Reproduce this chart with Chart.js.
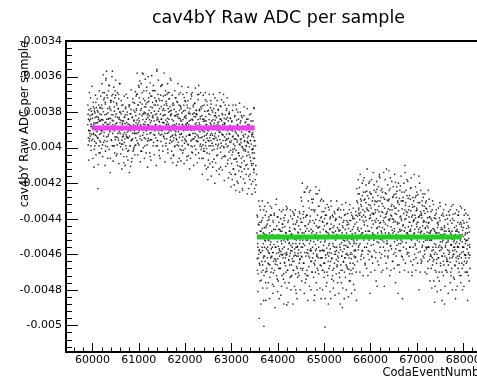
<!DOCTYPE html>
<html>
<head>
<meta charset="utf-8">
<script src="https://cdn.jsdelivr.net/npm/chart.js@4"></script>
<style>
  html, body { margin: 0; padding: 0; background: #fff; overflow: hidden; }
  #wrap { width: 520px; height: 382px; position: relative; }
</style>
</head>
<body>
<div id="wrap"><canvas id="chart"></canvas></div>
<script>
// event number of the first sample in each run; one sample every 6.25 events (8 per row of 50),
// the second pass of samples sits half a step later
const lowRunStart = 59900;
const highRunStart = 63550;
const sampleStep = 6.25;

// tick labels
const xTickVals = [60000, 61000, 62000, 63000, 64000, 65000, 66000, 67000, 68000];
const yTickVals = [-0.005, -0.0048, -0.0046, -0.0044, -0.0042, -0.004, -0.0038, -0.0036, -0.0034];

// Raw ADC per sample, as magnitudes in units of 1e-6 (values are negative)
const lowRunY = [
  [3870,3812,3945,3901,3788,3962,3850,3920],[3905,3840,3780,3990,3868,3925,3815,3880],
  [3835,3952,3890,3770,3918,3860,4010,3795],[3880,3805,3930,3862,3745,3975,3898,3826],
  [3910,3792,3858,3947,3830,3885,3760,4030],[3850,3925,3810,3892,3968,3775,3903,3842],
  [3760,3905,3842,3985,3690,3870,3798,3935],[3880,3720,3960,3815,3745,4020,3856,3610],
  [3812,3940,3705,3868,3995,3780,3890,3840],[3925,3650,3835,3770,3910,3860,4060,3735],
  [3790,3880,3960,3708,3845,3570,3920,3815],[3850,3742,3905,3990,3795,3875,3680,3955],
  [3705,3865,3812,3940,3760,4035,3888,3830],[3895,3780,3958,3725,3840,3910,3800,3640],
  [3920,3845,3995,3810,3900,3760,3958,3870],[3862,3980,3795,3935,4050,3885,3828,3915],
  [3950,3815,3890,3772,3925,4005,3858,3940],[3800,3912,4020,3868,3945,3840,3760,3895],
  [3935,3872,3810,3990,3905,3785,3960,4080],[3880,3955,3830,3918,3745,3892,4010,3850],
  [3845,3920,3990,3800,3878,3945,3820,3710],[3790,3920,3845,3700,3880,3975,3760,3860],
  [3835,3660,3905,3812,3950,3745,3870,4020],[3880,3780,3958,3820,3690,3900,3842,3585],
  [3725,3868,3810,3945,3770,3990,3855,3805],[3900,3755,3840,3680,3925,3815,3962,3870],
  [3810,3948,3720,3875,3790,3842,4030,3635],[3860,3770,3915,3805,3955,3710,3880,3828],
  [3745,3890,3832,3970,3678,3850,3795,3930],[3905,3815,3760,3870,3990,3740,3845,3560],
  [3830,3960,3700,3888,3795,3920,3852,4045],[3780,3875,3930,3812,3655,3902,3768,3840],
  [3895,3735,3858,3990,3820,3780,3940,3860],[3815,3950,3790,3705,3885,3845,3975,3752],
  [3870,3762,3920,3835,4010,3690,3868,3800],[3840,3905,3725,3880,3795,3958,3815,3620],
  [3905,3810,3968,3842,3760,3930,3875,4040],[3850,3945,3785,3902,3820,3990,3720,3878],
  [3932,3798,3865,3955,3740,3890,3825,4080],[3812,3910,3990,3760,3868,3942,3835,3690],
  [3885,3770,3925,3852,4015,3805,3960,3870],[3940,3842,3795,3905,3880,3718,3975,3825],
  [3790,3958,3868,3820,3935,3875,4050,3760],[3862,3900,3735,3985,3808,3930,3850,3895],
  [3925,3780,3880,3845,3962,3700,3902,4025],[3840,3995,3812,3920,3760,3888,3950,3805],
  [3895,3752,3940,3868,3825,4010,3790,3860],[3810,3928,3875,3702,3965,3842,3898,3650],
  [3945,3860,3792,3910,3838,3980,3770,3885],[3880,3995,3820,3940,3765,3905,4060,3852],
  [3958,3840,3910,4020,3795,3885,3730,3970],[3825,3930,4005,3870,3948,3760,3900,4110],
  [3905,3790,3962,3842,4035,3880,3815,3930],[3990,3868,3755,3920,3850,3975,4080,3800],
  [3842,3950,3895,3780,4010,3862,3935,3720],[3920,3805,3982,3875,3830,4045,3900,3958],
  [3860,3990,3785,3935,3905,3820,4120,3878],[3955,3840,3912,4025,3768,3895,3850,3990],
  [3808,3925,3870,3960,3900,3745,4000,3835],[3940,3862,4050,3815,3890,3980,3790,3925],
  [3885,3995,3830,3905,4070,3850,3948,3762],[3920,3810,3968,3875,3835,4015,3900,4150],
  [3960,3855,4040,3905,3790,4010,3935,4120],[3880,4065,3952,3825,3990,3910,4150,3760],
  [4015,3920,3845,4080,3968,3875,3800,4200],[3935,4030,3890,3980,3750,4105,3862,3955],
  [3850,3972,4060,3912,4135,3830,3995,4240],[4005,3895,3940,3820,4075,3960,3880,4010],
  [3925,4100,3855,3990,3900,4045,3780,3965],[3970,3840,4025,3935,4160,3872,3995,3910],
  [3890,4055,3960,3810,3980,4090,3925,4262],[4030,3915,3850,4008,3940,3775,4125,3962]
];

// second pass over the same run, catching the wider spread
const lowRunY2 = [
  [3760,3985,3840,4070,3905,3690,3950,3820],[3935,3720,3880,4015,3795,3960,3655,3890],
  [3810,4060,3745,3925,3870,4110,3780,3965],[3990,3830,3705,3900,4040,3775,3935,3860],
  [3725,3945,3880,3800,4095,3840,3990,3680],[3960,3775,4030,3850,3710,3920,3815,4005],
  [3640,3905,3780,4050,3845,3590,3970,3730],[3915,3690,3860,4100,3755,3990,3620,3880],
  [3570,3840,3965,3720,4060,3805,3935,3680],[3870,4010,3650,3900,3780,4140,3835,3745],
  [3735,3955,3815,3600,3990,3870,3700,4075],[3990,3660,3885,3770,4030,3720,3940,3825],
  [3620,3895,4045,3750,3860,3985,3690,3920],[3945,3780,3700,4090,3830,3640,3975,3860],
  [3800,4035,3890,3735,3980,4120,3850,3940],[4010,3760,3925,3850,4085,3710,3970,3830],
  [3865,4100,3780,3990,3700,3935,4050,3815],[3945,3720,4070,3840,3905,4015,3770,4140],
  [3760,3990,3880,4105,3810,3675,3960,3895],[4060,3830,3950,3725,4020,3870,3790,4000],
  [3905,3750,4040,3920,3685,3985,3860,3780],[3700,3960,3580,3870,4040,3760,3915,3650],
  [3985,3720,3850,3625,3935,4080,3790,3880],[3640,3890,4020,3755,3580,3930,3810,4000],
  [3915,3680,3800,4060,3735,3870,3615,3950],[3770,4030,3905,3660,3985,3745,4110,3830],
  [3600,3875,3740,3960,3820,3695,3920,4050],[3955,3710,4070,3850,3595,3900,3775,3680],
  [3820,3990,3650,3925,3760,4040,3880,3720],[3680,3870,3945,3735,4100,3810,3570,3960],
  [3990,3760,3840,3620,3905,3725,4015,3855],[3735,4060,3890,3705,3965,3840,3650,3925],
  [3905,3645,3790,4020,3710,3935,3860,3580],[3760,3920,4080,3815,3680,3990,3740,3870],
  [3950,3700,3855,3640,4030,3780,3915,3725],[3690,3880,3975,3770,3610,3940,3820,4060],
  [3790,4020,3935,3705,3880,4085,3750,3960],[4045,3760,3870,3995,3680,3925,3820,3910],
  [3720,3950,4100,3815,3985,3745,3890,3640],[3970,3835,3700,4060,3790,3925,4010,3765],
  [3845,4075,3780,3920,3655,3990,3870,4030],[3700,3890,4015,3760,4090,3830,3950,3735],
  [4005,3740,3900,3835,3965,3690,4070,3860],[3775,3980,3660,4045,3870,3800,3930,4120],
  [3930,3810,4060,3725,3990,3880,3710,3955],[3690,4030,3845,3950,3770,4100,3825,3900],
  [3990,3750,3920,3665,4040,3810,3960,3790],[3815,3965,4085,3880,3730,3935,4030,3700],
  [4060,3785,3870,3990,3825,3690,3945,4010],[3780,4060,3900,4150,3840,3985,3705,4020],
  [4005,3760,3935,3850,4100,3690,3990,3870],[3850,4120,3740,4030,3920,3795,4180,3960],
  [4070,3810,3990,3700,3945,4090,3860,3775],[3735,3960,4160,3880,3790,4015,3930,4110],
  [3990,3700,3875,4065,3950,3820,4200,3845],[3820,4085,3945,3760,4130,3890,3735,4005],
  [4040,3870,3790,3980,3855,4150,3915,3690],[3765,4000,4110,3840,3975,3730,4060,3925],
  [4125,3815,3930,4050,3700,3995,3860,4185],[3870,4045,3760,3960,4105,3840,3950,3780],
  [3955,3720,4090,3890,3990,4170,3810,4025],[3800,4140,3925,4060,3835,3970,4220,3885],
  [4090,3850,4180,3940,4025,3760,4120,3980],[3890,4210,4005,3820,4150,3950,4065,4240],
  [4060,3785,3955,4190,3870,4100,3930,4030],[3840,4130,4045,3900,4250,3985,3800,4165],
  [4110,3950,3820,4085,3995,4230,3880,4050],[3930,4175,4015,3770,4120,3965,4200,3860],
  [4020,3880,4150,3990,3840,4095,4260,3945],[3870,4120,3975,4230,3910,4040,3815,4180],
  [4150,3960,4075,3850,4205,3935,4100,4010],[3925,4190,3880,4060,3990,4140,3780,4230]
];

const highRunY = [
  [4480,4625,4390,4560,4710,4505,4600,4435],[4575,4420,4660,4510,4350,4590,4470,4745],
  [4505,4640,4455,4580,4395,4690,4540,4860],[4610,4485,4560,4330,4640,4525,4760,4450],
  [4440,4570,4695,4500,4620,4410,4580,4520],[4655,4520,4405,4595,4480,4730,4545,4380],
  [4530,4380,4615,4470,4680,4560,4495,4820],[4590,4705,4460,4545,4370,4625,4510,4655],
  [4460,4560,4640,4290,4595,4505,4740,4530],[4625,4490,4555,4680,4420,4570,4610,4460],
  [4510,4650,4400,4585,4525,4780,4470,4605],[4570,4430,4620,4500,4710,4395,4560,4645],
  [4445,4595,4530,4665,4480,4605,4350,4885],[4600,4515,4690,4420,4570,4500,4635,4540],
  [4535,4660,4470,4595,4385,4550,4725,4490],[4485,4580,4625,4360,4540,4690,4505,4610],
  [4640,4455,4570,4515,4605,4430,4800,4560],[4520,4610,4410,4680,4555,4475,4595,4705],
  [4575,4495,4650,4540,4370,4625,4460,4590],
  [4420,4560,4300,4615,4480,4690,4520,4375],[4540,4395,4650,4250,4505,4590,4440,4760],
  [4470,4610,4520,4380,4720,4455,4220,4575],[4595,4430,4500,4670,4340,4540,4620,4410],
  [4385,4525,4640,4460,4580,4290,4700,4510],[4560,4470,4350,4595,4500,4650,4425,4830],
  [4490,4635,4545,4405,4260,4570,4480,4610],[4610,4380,4520,4690,4450,4560,4330,4505],
  [4445,4580,4475,4620,4530,4395,4665,4290],
  [4500,4620,4415,4575,4690,4460,4550,4360],[4580,4440,4650,4520,4380,4605,4495,4780],
  [4475,4565,4700,4425,4590,4510,4640,4335],[4610,4490,4540,4665,4400,4570,4455,4850],
  [4430,4595,4510,4625,4475,4720,4540,4390],[4555,4680,4440,4505,4600,4370,4585,4470],
  [4520,4405,4630,4560,4490,4660,4350,4610],[4640,4510,4460,4590,4705,4430,4545,4495],
  [4465,4575,4690,4395,4535,4610,4480,4900],[4585,4450,4520,4645,4410,4570,4700,4525],
  [4495,4620,4375,4550,4660,4480,4595,4435],[4560,4420,4605,4510,4455,4685,4530,4750],
  [4410,4540,4650,4470,4590,4365,4625,4515],[4600,4485,4555,4400,4680,4520,4445,4580],
  [4530,4660,4430,4575,4495,4615,4380,4540],
  [4420,4300,4510,4385,4460,4260,4575,4350],[4340,4470,4225,4405,4540,4365,4290,4630],
  [4455,4330,4390,4580,4270,4480,4410,4185],[4380,4520,4295,4435,4360,4650,4250,4470],
  [4310,4410,4560,4245,4495,4350,4440,4720],[4470,4355,4285,4520,4400,4190,4585,4325],
  [4395,4505,4340,4260,4450,4615,4370,4480],[4280,4430,4545,4375,4210,4490,4320,4410],
  [4500,4365,4420,4590,4305,4455,4235,4780],[4350,4480,4270,4410,4535,4330,4445,4150],
  [4425,4300,4515,4385,4240,4470,4600,4360],[4315,4450,4365,4495,4410,4280,4530,4395],
  [4460,4340,4580,4255,4430,4375,4500,4120],[4370,4525,4295,4440,4610,4345,4405,4480],
  [4290,4410,4490,4350,4230,4555,4380,4445],[4510,4385,4320,4465,4400,4640,4275,4420],
  [4405,4265,4455,4530,4340,4415,4195,4570],[4340,4490,4375,4245,4520,4430,4300,4820],
  [4475,4355,4425,4580,4285,4460,4390,4215],[4385,4520,4300,4410,4465,4345,4615,4440],
  [4300,4435,4560,4370,4495,4250,4405,4100],[4450,4325,4400,4535,4360,4480,4270,4590],
  [4365,4505,4285,4445,4590,4390,4330,4470],[4420,4290,4470,4355,4225,4515,4440,4700],
  [4495,4380,4335,4560,4415,4300,4485,4405],[4330,4460,4540,4280,4395,4620,4355,4430],
  [4445,4350,4420,4505,4265,4475,4390,4160],[4390,4530,4310,4450,4585,4360,4475,4650],
  [4470,4395,4560,4325,4440,4505,4280,4410],[4355,4485,4415,4600,4370,4455,4520,4340],
  [4500,4420,4345,4475,4560,4395,4640,4450],[4425,4560,4480,4390,4520,4330,4610,4470],
  [4520,4400,4610,4465,4580,4350,4660,4495],[4455,4575,4510,4630,4395,4540,4470,4780],
  [4590,4480,4545,4370,4650,4505,4600,4425],[4500,4620,4435,4560,4480,4700,4395,4550],
  [4410,4530,4665,4490,4575,4450,4610,4860],[4565,4460,4520,4640,4385,4595,4505,4470],
  [4485,4610,4405,4550,4690,4470,4535,4620],[4630,4505,4575,4430,4520,4660,4455,4580],
  [4470,4590,4500,4645,4410,4545,4720,4490],[4545,4425,4620,4515,4580,4375,4600,4530],
  [4600,4520,4450,4575,4665,4490,4540,4800],[4440,4585,4530,4470,4610,4555,4380,4625],
  [4560,4475,4650,4540,4490,4600,4520,4420],[4505,4620,4445,4590,4530,4680,4465,4560],
  [4585,4500,4560,4425,4640,4515,4605,4490],[4480,4605,4525,4650,4455,4570,4700,4520],
  [4550,4440,4590,4510,4620,4475,4545,4605]
];

const highRunY2 = [
  [4380,4690,4540,4810,4430,4620,4300,4580],[4650,4330,4750,4470,4590,4880,4420,4700],
  [4410,4560,4300,4660,4790,4480,4620,4350],[4720,4450,4610,4520,4380,4700,4860,4490],
  [4360,4680,4790,4430,4560,4310,4650,4760],[4590,4390,4510,4850,4660,4440,4330,4620],
  [4700,4570,4340,4610,4490,4770,4590,4410],[4420,4640,4780,4380,4690,4510,4900,4560],
  [4630,4320,4500,4720,4440,4660,4390,4810],[4390,4750,4590,4460,4850,4350,4580,4680],
  [4680,4470,4830,4600,4360,4540,4720,4430],[4450,4600,4350,4740,4520,4880,4410,4650],
  [4760,4380,4620,4480,4700,4330,4590,4790],[4340,4690,4520,4870,4410,4630,4760,4470],
  [4610,4450,4730,4350,4580,4800,4490,4660],[4720,4560,4400,4640,4880,4430,4690,4370],
  [4380,4780,4590,4460,4350,4710,4540,4820],[4670,4420,4850,4560,4730,4390,4610,4480],
  [4440,4720,4360,4630,4520,4800,4400,4680],
  [4280,4610,4750,4420,4200,4560,4680,4330],[4650,4360,4480,4820,4550,4250,4710,4440],
  [4390,4740,4230,4590,4690,4380,4520,4860],[4720,4300,4610,4470,4250,4780,4420,4580],
  [4240,4570,4800,4350,4640,4480,4700,4310],[4620,4410,4290,4730,4530,4860,4360,4660],
  [4350,4700,4580,4220,4760,4440,4600,4800],[4680,4260,4450,4620,4330,4710,4510,4240],
  [4410,4790,4660,4300,4580,4850,4390,4620],
  [4360,4690,4800,4420,4580,4300,4650,4730],[4700,4400,4530,4850,4340,4620,4470,4380],
  [4430,4760,4320,4600,4720,4480,4880,4550],[4680,4350,4590,4460,4810,4390,4640,4300],
  [4330,4620,4740,4510,4380,4690,4450,4790],[4750,4480,4360,4650,4560,4830,4410,4600],
  [4400,4710,4580,4300,4670,4450,4760,4350],[4620,4340,4820,4470,4390,4730,4560,4880],
  [4350,4660,4500,4760,4610,4320,4690,4440],[4790,4420,4640,4350,4550,4850,4380,4620],
  [4460,4730,4310,4600,4800,4410,4670,4520],[4680,4370,4560,4840,4430,4620,4350,4710],
  [4320,4600,4750,4410,4690,4500,4820,4380],[4710,4460,4390,4650,4340,4770,4540,4610],
  [4400,4800,4620,4480,4580,4360,4700,4860],
  [4230,4520,4640,4310,4450,4180,4560,4370],[4550,4260,4380,4700,4150,4490,4320,4610],
  [4300,4600,4480,4200,4580,4350,4720,4250],[4620,4170,4420,4560,4290,4660,4390,4510],
  [4210,4490,4680,4340,4120,4540,4270,4600],[4580,4320,4200,4630,4470,4250,4820,4380],
  [4260,4700,4550,4180,4610,4410,4300,4650],[4490,4140,4370,4520,4240,4580,4690,4300],
  [4350,4620,4250,4750,4400,4190,4530,4450],[4640,4300,4510,4220,4660,4360,4160,4590],
  [4170,4560,4420,4620,4280,4700,4480,4230],[4520,4250,4690,4330,4560,4140,4420,4780],
  [4290,4610,4180,4480,4390,4650,4260,4540],[4680,4360,4540,4210,4620,4300,4580,4130],
  [4240,4500,4720,4400,4170,4550,4690,4330],[4570,4190,4350,4640,4280,4480,4220,4600],
  [4330,4680,4470,4150,4590,4370,4760,4260],[4610,4280,4220,4550,4420,4660,4310,4500],
  [4200,4540,4660,4320,4700,4240,4470,4580],[4540,4160,4400,4610,4250,4530,4850,4300],
  [4280,4630,4510,4200,4470,4690,4350,4140],[4650,4310,4240,4570,4380,4180,4600,4480],
  [4190,4490,4700,4350,4610,4420,4270,4560],[4560,4230,4460,4640,4170,4520,4390,4720],
  [4320,4660,4280,4500,4410,4630,4150,4480],[4600,4380,4550,4220,4690,4270,4570,4340],
  [4250,4520,4650,4420,4310,4590,4460,4800],[4510,4200,4380,4700,4480,4240,4630,4370],
  [4380,4640,4300,4550,4260,4610,4420,4530],[4620,4330,4580,4260,4700,4450,4310,4560],
  [4300,4570,4710,4440,4520,4360,4680,4240],[4560,4420,4290,4630,4390,4750,4480,4600],
  [4360,4680,4520,4790,4410,4620,4300,4560],[4640,4320,4750,4460,4600,4870,4380,4690],
  [4400,4560,4700,4350,4630,4480,4810,4450],[4730,4420,4340,4620,4500,4750,4580,4310],
  [4330,4650,4800,4460,4560,4380,4700,4530],[4610,4370,4490,4720,4350,4660,4440,4880],
  [4450,4780,4560,4320,4690,4510,4380,4640],[4700,4400,4640,4530,4820,4360,4600,4470],
  [4380,4620,4350,4760,4480,4700,4550,4330],[4680,4470,4800,4400,4610,4320,4730,4560],
  [4410,4740,4560,4660,4370,4850,4470,4620],[4640,4350,4460,4780,4560,4420,4680,4380],
  [4360,4700,4610,4430,4720,4510,4330,4760],[4720,4430,4340,4650,4490,4800,4560,4410],
  [4450,4660,4780,4380,4600,4350,4700,4540],[4620,4370,4520,4700,4420,4640,4480,4860],
  [4380,4720,4600,4450,4750,4400,4560,4680]
];

// loose points around the step and far outliers: [event, magnitude 1e-6]
const strayPts = [
  [63450,4010],[63470,4090],[63480,4120],[63490,4030],[63500,4060],[63505,3960],
  [63510,4180],[63515,4250],[63520,3990],[63525,4100],[63530,4210],[63540,4150],
  [63600,4960],[63700,5005],[60120,4230],[65020,5010]
];

// fitted levels for the two runs
const fitLevels = [-0.00389, -0.004503];
const fitRanges = [[60000, 63500], [63550, 67970]];
const fitColors = ['#f03cf0', '#22cc22'];

const scatterPts = [];
function addRun(rows, start) {
  rows.forEach((row, i) => row.forEach((v, j) => {
    scatterPts.push({ x: start + (i * row.length + j) * sampleStep, y: -v * 1e-6 });
  }));
}
addRun(lowRunY, lowRunStart);
addRun(lowRunY2, lowRunStart + sampleStep / 2);
addRun(highRunY, highRunStart);
addRun(highRunY2, highRunStart + sampleStep / 2);
strayPts.forEach(p => scatterPts.push({ x: p[0], y: -p[1] * 1e-6 }));

const fitSets = fitLevels.map((lvl, i) => ({
  type: 'line',
  data: [{ x: fitRanges[i][0], y: lvl }, { x: fitRanges[i][1], y: lvl }],
  borderColor: fitColors[i],
  borderWidth: 5,
  pointRadius: 0,
  borderCapStyle: 'butt'
}));

// ROOT style ticks pointing inward, plus the frame
const rootFrame = {
  id: 'rootFrame',
  afterDatasetsDraw(chart) {
    const { ctx, chartArea: a, scales: { x, y } } = chart;
    ctx.save();
    ctx.strokeStyle = '#000';
    ctx.lineWidth = 1;
    ctx.beginPath();
    for (let k = -128; k <= -85; k++) {
      const py = Math.round(y.getPixelForValue(k * 0.00004)) + 0.5;
      const len = k % 5 === 0 ? 12 : 6;
      ctx.moveTo(a.left, py);
      ctx.lineTo(a.left + len, py);
    }
    for (let v = 59600; v <= 68600; v += 200) {
      const px = Math.round(x.getPixelForValue(v)) + 0.5;
      const len = v % 1000 === 0 ? 9 : 4.5;
      ctx.moveTo(px, a.bottom);
      ctx.lineTo(px, a.bottom - len);
    }
    ctx.stroke();
    ctx.lineWidth = 2;
    ctx.strokeRect(a.left, a.top, a.right - a.left, a.bottom - a.top);
    ctx.restore();
  }
};

const font = 'DejaVu Sans';

new Chart(document.getElementById('chart'), {
  type: 'scatter',
  data: {
    datasets: [
      ...fitSets,
      {
        data: scatterPts,
        pointRadius: 0.85,
        pointBorderWidth: 0,
        pointBackgroundColor: 'rgba(0,0,0,0.8)'
      }
    ]
  },
  options: {
    responsive: true,
    maintainAspectRatio: false,
    animation: false,
    events: [],
    layout: { padding: { left: 0, right: 29, top: 0, bottom: 0 } },
    plugins: {
      legend: { display: false },
      tooltip: { enabled: false },
      title: {
        display: true,
        fullSize: false,
        text: 'cav4bY Raw ADC per sample',
        color: '#000',
        font: { family: font, size: 17.5, weight: 'normal' },
        padding: { top: 8, bottom: 12 }
      }
    },
    scales: {
      x: {
        type: 'linear',
        min: 59430,
        max: 68600,
        afterFit: s => { s.height = 30; },
        afterBuildTicks: s => { s.ticks = xTickVals.map(v => ({ value: v })); },
        grid: { display: false, drawTicks: false },
        border: { display: false },
        ticks: {
          autoSkip: false,
          maxRotation: 0,
          padding: 2,
          color: '#000',
          font: { family: font, size: 11 },
          callback: v => String(v)
        },
        title: {
          display: true,
          text: 'CodaEventNumber',
          align: 'end',
          color: '#000',
          font: { family: font, size: 11.5 },
          padding: { top: 0, bottom: 2 }
        }
      },
      y: {
        min: -0.00515,
        max: -0.0034,
        afterFit: s => { s.width = 66; },
        afterBuildTicks: s => { s.ticks = yTickVals.map(v => ({ value: v })); },
        grid: { display: false, drawTicks: false },
        border: { display: false },
        ticks: {
          autoSkip: false,
          padding: 4,
          color: '#000',
          font: { family: font, size: 11 },
          callback: v => String(v)
        },
        title: {
          display: true,
          text: 'cav4bY Raw ADC per sample',
          align: 'end',
          color: '#000',
          font: { family: font, size: 11.5 },
          padding: { top: 18, bottom: 0 }
        }
      }
    }
  },
  plugins: [rootFrame]
});
</script>
</body>
</html>
